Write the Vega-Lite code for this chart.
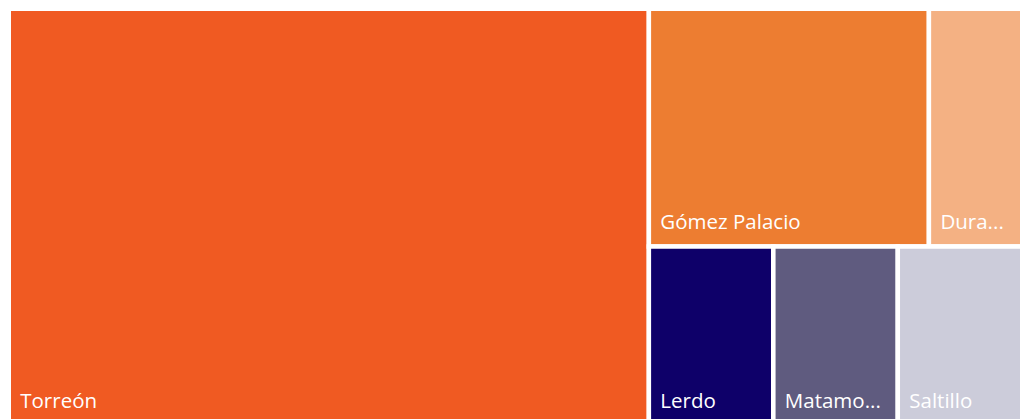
{
  "$schema": "https://vega.github.io/schema/vega-lite/v6.json",
  "autosize": {"type": "none"},
  "padding": {"left": 8.75, "top": 8.75, "right": 0, "bottom": 0},
  "width": 1013.5,
  "height": 416,
  "background": "white",
  "config": {"view": {"stroke": null}},
  "data": {
    "values": [
      {"name": "Torreón", "value": 12},
      {"name": "Gómez Palacio", "value": 3},
      {"name": "Durango", "value": 1},
      {"name": "Lerdo", "value": 1},
      {"name": "Matamoros", "value": 1},
      {"name": "Saltillo", "value": 1}
    ]
  },
  "transform": [
    {"window": [{"op": "row_number", "as": "rank"}]},
    {"calculate": "datum.rank == 1 ? 'A' : (datum.rank <= 3 ? 'B' : 'C')", "as": "grp"},
    {"calculate": "datum.grp == 'A' ? datum.value : 0", "as": "vA"},
    {"calculate": "datum.grp == 'B' ? datum.value : 0", "as": "vB"},
    {"joinaggregate": [
      {"op": "sum", "field": "value", "as": "total"},
      {"op": "sum", "field": "vA", "as": "sumA"},
      {"op": "sum", "field": "vB", "as": "sumB"}
    ]},
    {"joinaggregate": [{"op": "sum", "field": "value", "as": "gsum"}], "groupby": ["grp"]},
    {"window": [{"op": "sum", "field": "value", "as": "cum"}], "groupby": ["grp"], "sort": [{"field": "rank", "order": "ascending"}], "frame": [null, 0]},
    {"calculate": "datum.sumA / datum.total", "as": "cx"},
    {"calculate": "datum.grp == 'A' ? 0 : datum.cx + (1 - datum.cx) * (datum.cum - datum.value) / datum.gsum", "as": "x0"},
    {"calculate": "datum.grp == 'A' ? datum.cx : datum.cx + (1 - datum.cx) * datum.cum / datum.gsum", "as": "x1"},
    {"calculate": "datum.grp == 'C' ? datum.sumB / (datum.total - datum.sumA) : 0", "as": "y0"},
    {"calculate": "datum.grp == 'B' ? datum.sumB / (datum.total - datum.sumA) : 1", "as": "y1"}
  ],
  "encoding": {
    "x": {"field": "x0", "type": "quantitative", "axis": null, "scale": {"domain": [0, 1], "nice": false, "zero": false}},
    "y": {"field": "y1", "type": "quantitative", "axis": null, "scale": {"domain": [0, 1], "nice": false, "zero": false, "reverse": true}}
  },
  "layer": [
    {
      "mark": {"type": "rect", "stroke": "white", "strokeWidth": 4.5},
      "encoding": {
        "x": {"field": "x0", "type": "quantitative"},
        "x2": {"field": "x1"},
        "y": {"field": "y0", "type": "quantitative"},
        "y2": {"field": "y1"},
        "color": {
          "field": "name", "type": "nominal", "legend": null,
          "scale": {
            "domain": ["Torreón", "Gómez Palacio", "Durango", "Lerdo", "Matamoros", "Saltillo"],
            "range": ["#F05A22", "#ED7D31", "#F4B183", "#0E0069", "#5F5B7F", "#CCCCDA"]
          }
        }
      }
    },
    {
      "mark": {
        "type": "text", "align": "left", "baseline": "alphabetic",
        "dx": 11.5, "dy": -17, "font": "Open Sans", "fontSize": 20.5, "color": "white",
        "ellipsis": "...",
        "limit": {"expr": "scale('x', datum.x1) - scale('x', datum.x0) - 22"}
      },
      "encoding": {
        "text": {"field": "name"}
      }
    }
  ]
}
